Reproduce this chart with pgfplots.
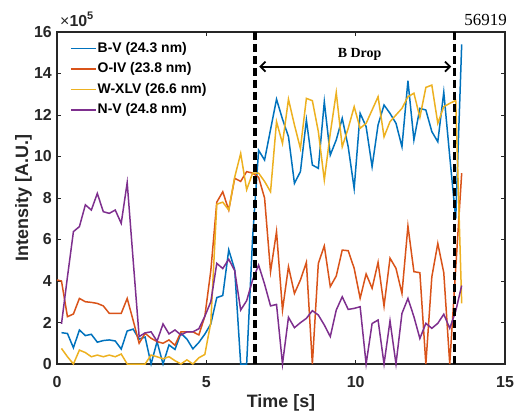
\documentclass[border=0pt]{standalone}
\usepackage{pgfplots}
\pgfplotsset{compat=1.18}
\usepackage{pgfplotstable}
\usepackage{fontspec}
\setmainfont{Liberation Sans}
\newfontfamily\seriffont{Liberation Serif}
\usetikzlibrary{arrows.meta}
\definecolor{mBlue}{rgb}{0,0.447,0.741}
\definecolor{mOrange}{rgb}{0.85,0.325,0.098}
\definecolor{mYellow}{rgb}{0.929,0.694,0.125}
\definecolor{mPurple}{rgb}{0.494,0.184,0.556}
\definecolor{axgray}{rgb}{0.15,0.15,0.15}

\pgfplotstableread{
t B O W N
0.00 nan 4.05 nan nan
0.15 1.51 4.00 0.75 1.93
0.35 1.47 2.28 0.35 4.20
0.55 0.78 2.41 0.00 6.38
0.75 1.64 3.16 0.67 6.62
0.95 1.37 3.00 0.55 7.67
1.15 1.43 2.97 0.35 7.42
1.35 1.05 2.92 0.43 8.22
1.55 1.13 2.80 0.35 7.34
1.75 1.16 2.44 0.43 7.26
1.95 1.11 2.44 0.35 7.42
2.15 0.72 2.44 0.48 6.78
2.35 1.59 3.16 0.00 8.74
2.55 1.68 2.10 0.00 5.00
2.75 1.20 1.00 0.00 1.32
2.95 1.30 1.48 0.00 1.50
3.15 0.00 1.24 0.43 1.55
3.35 1.08 1.08 0.35 1.10
3.55 0.00 1.00 0.25 1.93
3.75 0.92 1.16 0.35 1.45
3.95 0.70 0.90 0.16 1.64
4.15 1.48 1.55 0.00 1.40
4.35 1.20 1.55 0.20 1.55
4.55 0.73 1.55 0.00 1.55
4.75 1.04 1.40 0.30 1.70
4.95 1.44 2.30 0.46 2.30
5.15 1.93 4.50 2.00 3.00
5.35 3.20 7.80 7.70 4.85
5.55 3.30 8.30 7.80 4.60
5.75 5.50 7.42 7.42 5.05
5.95 4.55 8.95 9.00 4.50
6.15 0.00 8.80 10.15 2.60
6.35 0.00 9.27 8.40 3.05
6.55 6.10 9.20 9.20 4.05
6.75 10.30 9.00 9.20 4.77
6.95 9.83 8.00 8.80 3.85
7.15 11.30 4.45 8.30 2.80
7.35 12.76 6.38 11.68 2.87
7.55 11.80 2.60 10.63 0.00
7.75 10.96 4.69 12.76 2.25
7.95 8.71 3.40 11.52 1.75
8.15 9.27 4.05 10.39 1.99
8.35 11.76 4.90 12.80 2.20
8.55 9.59 0.00 12.69 2.57
8.75 9.43 4.85 11.20 2.36
8.95 12.64 5.69 8.87 1.88
9.15 10.07 3.73 11.12 1.32
9.35 10.80 4.24 13.08 2.60
9.55 11.84 5.49 10.47 3.24
9.75 10.47 5.46 11.36 2.63
9.95 8.46 4.61 12.40 2.68
10.15 12.08 3.17 11.36 2.76
10.35 11.44 4.34 11.60 0.00
10.55 9.51 3.65 12.24 1.95
10.75 11.52 4.90 12.88 2.12
10.95 12.48 2.79 10.95 0.00
11.15 12.08 5.10 11.68 2.08
11.35 11.60 4.61 12.00 0.00
11.55 10.47 3.40 12.32 2.44
11.75 13.65 6.65 12.88 3.16
11.95 10.80 4.45 13.05 2.28
12.15 12.32 4.40 11.89 1.23
12.35 12.24 0.00 13.33 1.96
12.55 11.20 4.20 13.44 1.72
12.75 10.71 5.81 11.60 1.96
12.95 13.10 4.40 12.40 2.40
13.15 10.00 0.00 12.56 1.72
13.35 7.00 4.60 12.70 2.55
13.55 15.40 9.20 2.92 3.78
}\datatable

\begin{document}
\begin{tikzpicture}
\path[use as bounding box] (-57bp,-48bp) rectangle (458bp,364bp);
\begin{axis}[
  at={(0,0)}, anchor=south west,
  scale only axis, width=448bp, height=332bp,
  xmin=0, xmax=15, ymin=0, ymax=16,
  xtick={0,5,10,15}, ytick={0,2,...,16},
  tick align=inside, major tick length=4bp,
  axis line style={line width=1.1bp, color=axgray},
  every tick/.style={line width=0.9bp, color=axgray},
  /pgf/number format/assume math mode=true,
  ticklabel style={font=\bfseries\fontsize{16}{16}\selectfont, text=axgray},
  xticklabel style={anchor=base, inner sep=0pt, yshift=-23bp},
  yticklabel style={anchor=east, inner sep=0pt, xshift=-5bp},
  xlabel={Time [s]}, ylabel={Intensity [A.U.]},
  label style={font=\bfseries\fontsize{18}{18}\selectfont, text=axgray},
  xlabel style={at={(axis description cs:0.5,-0.1325)}, anchor=base},
  ylabel style={at={(axis description cs:-0.0647,0.5)}, anchor=base, rotate=0},
  legend cell align=left,
  legend image code/.code={\draw[#1] (0bp,0bp) -- (25bp,0bp);},
  legend style={at={(rel axis cs:0,1)}, anchor=north west, xshift=13bp, yshift=-8bp,
    draw=none, fill=none, inner sep=0pt, row sep=3.5bp,
    font=\bfseries\fontsize{14}{14}\selectfont,
    nodes={inner xsep=1bp, inner ysep=2bp, text height=10bp, text depth=3bp}},
  clip=false,
]
\addplot[mBlue, line width=1.5bp] table[x=t,y=B] {\datatable};
\addlegendentry{B-V (24.3 nm)}
\addplot[mOrange, line width=1.5bp] table[x=t,y=O] {\datatable};
\addlegendentry{O-IV (23.8 nm)}
\addplot[mYellow, line width=1.5bp] table[x=t,y=W] {\datatable};
\addlegendentry{W-XLV (26.6 nm)}
\addplot[mPurple, line width=1.5bp] table[x=t,y=N] {\datatable};
\addlegendentry{N-V (24.8 nm)}
\addplot[black, line width=3.3bp, dash pattern=on 8bp off 4bp, forget plot] coordinates {(6.63,16) (6.63,0)};
\addplot[black, line width=3.3bp, dash pattern=on 8bp off 4bp, forget plot] coordinates {(13.32,16) (13.32,0)};
\draw[{Straight Barb[length=5bp,width=10bp]}-{Straight Barb[length=5bp,width=10bp]}, line width=1.8bp]
  (axis cs:6.77,14.33) -- (axis cs:13.2,14.33);
\node[font=\seriffont\bfseries\fontsize{14}{14}\selectfont] at (axis cs:10.13,14.94) {B Drop};
\node[anchor=base west, inner sep=0pt, text=axgray] at ([xshift=3bp,yshift=5bp]rel axis cs:0,1)
  {\fontsize{16}{16}\selectfont ×\textbf{10}\raisebox{7bp}{\fontsize{11}{11}\selectfont\textbf{5}}};
\node[anchor=base east, inner sep=0pt, font=\seriffont\fontsize{17}{17}\selectfont] at ([xshift=2bp,yshift=6bp]rel axis cs:1,1) {56919};
\end{axis}
\end{tikzpicture}
\end{document}
